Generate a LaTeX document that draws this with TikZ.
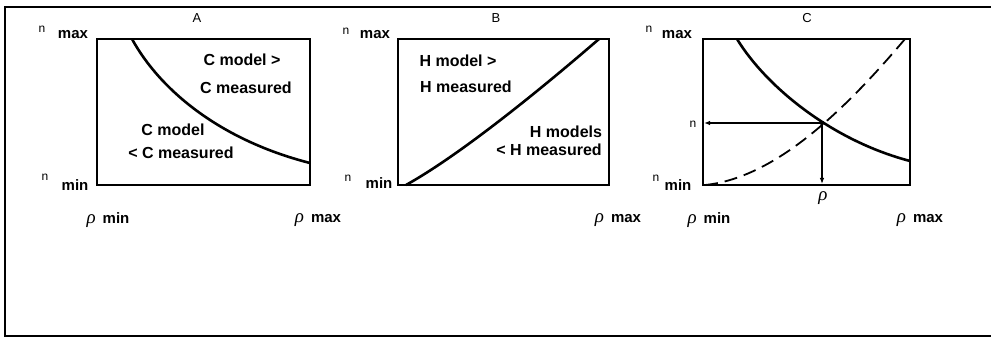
\documentclass[tikz,border=0pt]{standalone}
\usepackage{fontspec}
\setmainfont{Liberation Sans}
\newfontfamily\rhofont{Liberation Serif}
\usetikzlibrary{arrows.meta}
\newcommand{\rhosym}{{\rhofont\mdseries\itshape\fontsize{19}{19}\selectfont ρ}}
\begin{document}
\begin{tikzpicture}[x=1pt,y=-1pt,
  frame/.style={line width=1.4pt},
  plotbox/.style={line width=2.4pt, line join=miter},
  curve/.style={line width=2.6pt},
  dcurve/.style={line width=1.8pt, dash pattern=on 13pt off 7pt},
  guide/.style={line width=1.1pt, -{Latex[length=6pt,width=4.5pt]}},
  region/.style={font=\fontsize{16}{16}\bfseries\selectfont, inner sep=0pt},
  title/.style={font=\fontsize{13}{13}\selectfont, inner sep=0pt},
  nsym/.style={font=\fontsize{12}{12}\selectfont, inner sep=0pt},
  lim/.style={font=\fontsize{15}{15}\bfseries\selectfont, inner sep=0pt},
  rholab/.style={font=\fontsize{15}{15}\bfseries\selectfont, inner sep=0pt}
]
\useasboundingbox (0,0) rectangle (991,339);
% outer frame
\draw[frame] (991,7) -- (5,7) -- (5,336) -- (991,336);

% ---------- panel A ----------
\draw[plotbox] (97,39) rectangle (310,185);
\node[title] (tA) at (197,18) {A};
\draw[curve] (132,39) .. controls (160,90) and (220,140) .. (310,163);
\node[region] (a1) at (242,60) {C  model >};
\node[region] (a2) at (246,88) {C measured};
\node[region] (a3) at (173,130) {C  model};
\node[region] (a4) at (181,153) {< C measured};
\node[nsym] (anx) at (42,29) {n};
\node[lim] (amx) at (73,35) {max};
\node[nsym] (ann) at (45,177) {n};
\node[lim] (amn) at (75,185) {min};
\node[rholab] (arn) at (108,220) {\rhosym\hspace{7pt}min};
\node[rholab] (arx) at (318,220) {\rhosym\hspace{7pt}max};

% ---------- panel B ----------
\draw[plotbox] (398,39) rectangle (609,185);
\node[title] (tB) at (496,18) {B};
\draw[curve] (406,185) .. controls (460,155) and (540,90) .. (599,39);
\node[region] (b1) at (458,61) {H model  >};
\node[region] (b2) at (466,87) {H measured};
\node[region] (b3) at (566,132) {H models};
\node[region] (b4) at (549,150) {< H measured};
\node[nsym] (bnx) at (346,31) {n};
\node[lim] (bmx) at (375,35) {max};
\node[nsym] (bnn) at (348,178) {n};
\node[lim] (bmn) at (379,183) {min};
\node[rholab] (brx) at (618,220) {\rhosym\hspace{7pt}max};

% ---------- panel C ----------
\draw[plotbox] (703,39) rectangle (910,185);
\node[title] (tC) at (807,18) {C};
\draw[curve] (737,39) .. controls (765,85) and (830,140) .. (910,161);
\draw[dcurve] (705,185) .. controls (775,178) and (845,110) .. (905,39);
\coordinate (X) at (822,123);
\coordinate (XL) at (704,123);
\coordinate (XB) at (822,184);
\draw[guide] (X) -- (XL);
\draw[guide] (X) -- (XB);
\fill (X) circle (2.2pt);
\node[nsym] (cn) at (693,124) {n};
\node[rholab] (crho) at (823,198) {\rhosym};
\node[nsym] (cnx) at (649,29) {n};
\node[lim] (cmx) at (677,35) {max};
\node[nsym] (cnn) at (656,178) {n};
\node[lim] (cmn) at (678,185) {min};
\node[rholab] (crn) at (709,220) {\rhosym\hspace{7pt}min};
\node[rholab] (crx) at (920,220) {\rhosym\hspace{7pt}max};
\end{tikzpicture}
\end{document}
